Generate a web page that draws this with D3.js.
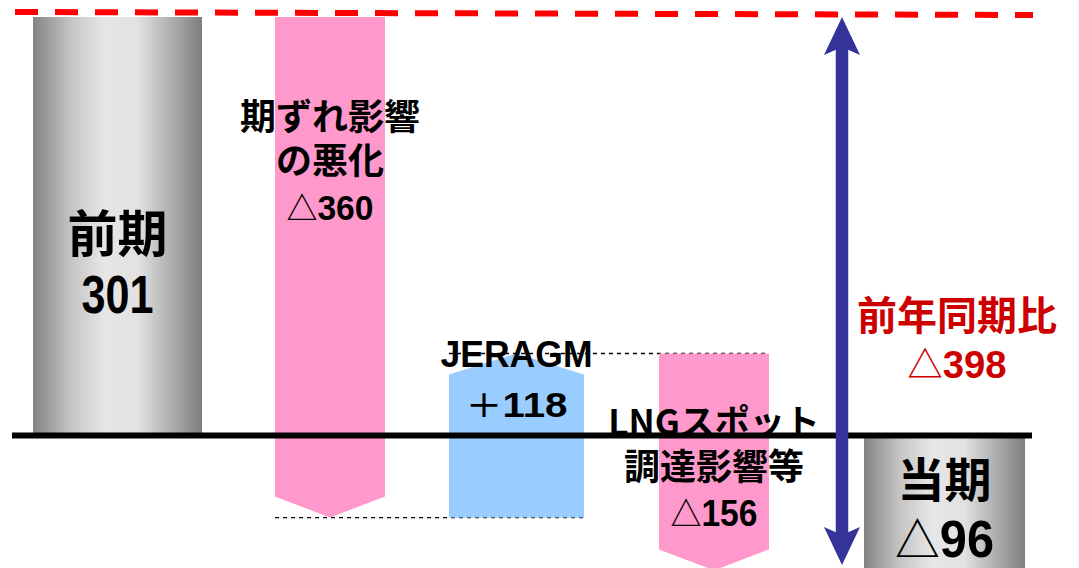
<!DOCTYPE html>
<html>
<head>
<meta charset="utf-8">
<script src="https://cdn.jsdelivr.net/npm/d3@7"></script>
<style>
  html, body { margin: 0; padding: 0; background: #ffffff; }
  svg { display: block; }
  text { font-family: "Noto Sans CJK JP", "Noto Sans", sans-serif; font-weight: 700; }
  .num { font-family: "Liberation Sans", Arial, sans-serif; font-weight: 700; }
  .sym { font-family: "Noto Sans CJK JP", sans-serif; font-weight: 500; }
</style>
</head>
<body>
<svg id="chart" width="1079" height="568"></svg>
<script>
// Step names (one label line per entry), step values and step kinds
const categories = ["prev", "timing", "jeragm", "lng", "curr"];
const labelLines = [
  ["前期", "301"],
  ["期ずれ影響", "の悪化", "△360"],
  ["JERAGM", "＋118"],
  ["LNGスポット", "調達影響等", "△156"],
  ["当期", "△96"]
];
const values = [301, -360, 118, -156, -96];
const kinds = ["total", "delta", "delta", "delta", "total"];
const diffLabel = ["前年同期比", "△398"];

const svg = d3.select("#chart");

// Vertical value scale and horizontal slot scale
const y = d3.scaleLinear().domain([-96, 301]).range([569, 17]);
const x = d3.scaleOrdinal().domain(categories).range([117.5, 330, 516.5, 714, 944.5]);
const barWidth = { total: 169, delta: 110, up: 135 };
const arrowHead = 21;

// Running start/end of each step
let running = 0;
const steps = categories.map((c, i) => {
  const v = values[i];
  let start, end;
  if (kinds[i] === "total") { start = 0; end = v; running = v; }
  else { start = running; end = running + v; running = end; }
  return { cat: c, value: v, kind: kinds[i], start, end, lines: labelLines[i] };
});

// Metallic grey gradient for total bars
const defs = svg.append("defs");
const grad = defs.append("linearGradient").attr("id", "metal")
  .attr("x1", "0%").attr("x2", "100%").attr("y1", "0%").attr("y2", "0%");
[["0%", "#838383"], ["22%", "#c4c4c4"], ["42%", "#e6e6e6"], ["62%", "#e2e2e2"], ["100%", "#7e7e7e"]]
  .forEach(([o, c]) => grad.append("stop").attr("offset", o).attr("stop-color", c));

// Previous-period reference line
svg.append("line")
  .attr("x1", 15).attr("x2", 1033)
  .attr("y1", y(301) - 5).attr("y2", y(301) - 2)
  .attr("stroke", "#ff0000").attr("stroke-width", 6)
  .attr("stroke-dasharray", "23,17");

// Dashed connectors between consecutive step ends
const connectors = [
  { from: steps[1], to: steps[2], level: steps[1].end },
  { from: steps[2], to: steps[3], level: steps[2].end }
];
svg.append("g").selectAll("line").data(connectors).join("line")
  .attr("x1", d => x(d.from.cat) - (d.from.value > 0 ? barWidth.up : barWidth.delta) / 2)
  .attr("x2", d => x(d.to.cat) + (d.to.value > 0 ? barWidth.up : barWidth.delta) / 2)
  .attr("y1", d => y(d.level)).attr("y2", d => y(d.level))
  .attr("stroke", "#000").attr("stroke-width", 1.3)
  .attr("stroke-dasharray", "4,4");

// Bars: totals as gradient rectangles, changes as chevron arrows
const g = svg.append("g");
steps.forEach(s => {
  if (s.kind === "total") {
    const w = barWidth.total - (s.value < 0 ? 8 : 0);
    g.append("rect")
      .attr("x", x(s.cat) - w / 2).attr("width", w)
      .attr("y", y(Math.max(s.start, s.end)))
      .attr("height", Math.abs(y(s.start) - y(s.end)))
      .attr("fill", "url(#metal)");
  } else {
    const up = s.value > 0;
    const w = up ? barWidth.up : barWidth.delta;
    const l = x(s.cat) - w / 2, r = x(s.cat) + w / 2, cx = x(s.cat);
    const y0 = y(s.start), y1 = y(s.end);
    const dir = up ? 1 : -1;          // chevron pointing towards the end value
    const shoulder = y1 + dir * arrowHead;
    const p = d3.path();
    p.moveTo(l, y0); p.lineTo(l, shoulder); p.lineTo(cx, y1);
    p.lineTo(r, shoulder); p.lineTo(r, y0); p.closePath();
    g.append("path").attr("d", p.toString())
      .attr("fill", up ? "#99ccff" : "#ff99cc");
  }
});

// Zero baseline
svg.append("line")
  .attr("x1", 12).attr("x2", 1032)
  .attr("y1", y(0)).attr("y2", y(0))
  .attr("stroke", "#000").attr("stroke-width", 6);

// Year-on-year difference arrow (double headed)
const ax = 842;
const aTop = y(301), aBot = y(-96) - 4;
svg.append("line").attr("x1", ax).attr("x2", ax)
  .attr("y1", aTop + 30).attr("y2", aBot - 30)
  .attr("stroke", "#333399").attr("stroke-width", 12.5);
const head = (tipY, dir) => {
  const p = d3.path();
  p.moveTo(ax, tipY);
  p.lineTo(ax + 18, tipY + dir * 38);
  p.lineTo(ax, tipY + dir * 30);
  p.lineTo(ax - 18, tipY + dir * 38);
  p.closePath();
  return p.toString();
};
svg.append("path").attr("d", head(aTop, 1)).attr("fill", "#333399");
svg.append("path").attr("d", head(aBot, -1)).attr("fill", "#333399");

// Label writer: numeric lines get a sign glyph and condensed digits
function writeLine(parent, cx, line, st) {
  const t = parent.append("text")
    .attr("x", cx).attr("text-anchor", "middle")
    .attr("font-size", st.size).attr("fill", st.color || "#000");
  const m = line.match(/^([△＋]?)([0-9]+)$/);
  if (m) {
    t.attr("y", st.y).attr("class", "num");
    if (m[1]) t.append("tspan").attr("class", "sym").attr("font-size", st.size * 0.92).text(m[1]);
    t.append("tspan").text(m[2]);
    if (st.width) t.attr("textLength", st.width).attr("lengthAdjust", "spacingAndGlyphs");
  } else if (/^[A-Z]+$/.test(line)) {
    t.attr("y", st.y).attr("class", "num").text(line);
    if (st.width) t.attr("textLength", st.width).attr("lengthAdjust", "spacingAndGlyphs");
  } else {
    t.attr("y", st.y).attr("dominant-baseline", "central").text(line);
  }
  return t;
}

// Step label styles: CJK lines centred on y, numeric lines on their baseline
const labelStyle = {
  prev:   [{ size: 50, y: 230 }, { size: 53, y: 313, width: 72 }],
  timing: [{ size: 36, y: 114 }, { size: 36, y: 158 }, { size: 35, y: 220, width: 87 }],
  jeragm: [{ size: 37, y: 367, width: 152 }, { size: 35, y: 417, width: 102 }],
  lng:    [{ size: 35, y: 419 }, { size: 36, y: 464 }, { size: 36, y: 526, width: 87 }],
  curr:   [{ size: 47, y: 476 }, { size: 51, y: 557, width: 99 }]
};
const tg = svg.append("g");
steps.forEach(s => {
  s.lines.forEach((line, i) => writeLine(tg, x(s.cat), line, labelStyle[s.cat][i]));
});

// Difference label
const diffStyle = [
  { size: 40, y: 313, color: "#cc0000" },
  { size: 39, y: 378, width: 99, color: "#cc0000" }
];
diffLabel.forEach((line, i) => writeLine(svg, 957, line, diffStyle[i]));
</script>
</body>
</html>
